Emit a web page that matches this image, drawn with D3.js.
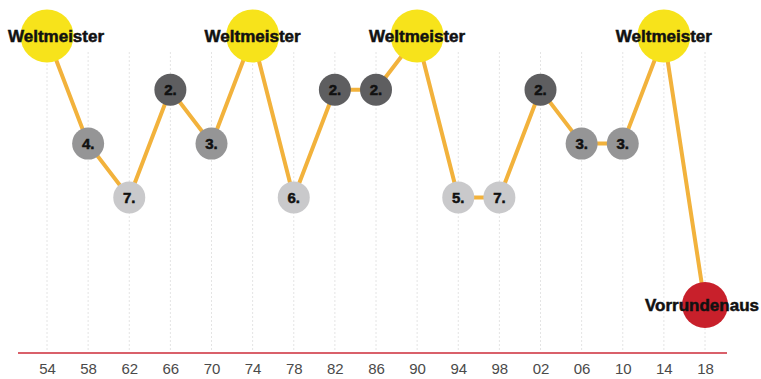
<!DOCTYPE html>
<html>
<head>
<meta charset="utf-8">
<script src="https://cdn.jsdelivr.net/npm/d3@7"></script>
<style>
body { margin: 0; background: #fff; }
svg text { font-family: "Liberation Sans", Arial, sans-serif; }
</style>
</head>
<body>
<div id="chart"></div>
<script>
// WM-Platzierungen
var years = ["54","58","62","66","70","74","78","82","86","90","94","98","02","06","10","14","18"];
var places = [1, 4, 7, 2, 3, 1, 6, 2, 2, 1, 5, 7, 2, 3, 3, 1, 0];   // 0 = Vorrunde
var labels = ["Weltmeister","4.","7.","2.","3.","Weltmeister","6.","2.","2.","Weltmeister","5.","7.","2.","3.","3.","Weltmeister","Vorrundenaus"];

var width = 761, height = 379;

var data = years.map(function(y, i){
	return {year: y, place: places[i], label: labels[i]};
});

// Platz -> Stufe
function tier(p) {
	if (p === 0) return 6;
	if (p === 1) return 1;
	if (p === 2) return 2;
	if (p <= 4) return 3;
	return 4;
}
function fillFor(p) {
	if (p === 0) return "#c8202b";
	if (p === 1) return "#f7e31b";
	if (p === 2) return "#5e5e60";
	if (p <= 4) return "#959596";
	return "#c9c9cb";
}
function radiusFor(p) {
	if (p === 1) return 26.5;
	if (p === 0) return 23;
	return 16;
}

var svg = d3.select("#chart").append("svg")
	.attr("width", width)
	.attr("height", height);

var x = d3.scalePoint()
	.domain(years)
	.range([47, 705]);

var y = d3.scaleLinear()
	.domain([1, 6])
	.range([36, 305]);

// dotted grid
svg.append("g")
	.selectAll("line")
	.data(years)
	.enter().append("line")
	.attr("x1", function(d){ return x(d); })
	.attr("x2", function(d){ return x(d); })
	.attr("y1", 52)
	.attr("y2", 352)
	.attr("stroke", "#e4e4e4")
	.attr("stroke-width", 1)
	.attr("stroke-dasharray", "2,2");

// axis
var xAxis = d3.axisBottom(x).tickSize(0).tickPadding(10);
var ax = svg.append("g")
	.attr("transform", "translate(0,353)")
	.call(xAxis);
ax.select(".domain").remove();
ax.append("line")
	.attr("x1", 18).attr("x2", 727)
	.attr("stroke", "#d9606a")
	.attr("stroke-width", 2);
ax.selectAll(".tick text")
	.attr("font-size", 15)
	.attr("fill", "#4a4a4a")
	.style("font-family", "'Liberation Sans', Arial, sans-serif");

// line
var line = d3.line()
	.x(function(d){ return x(d.year); })
	.y(function(d){ return y(tier(d.place)); });

svg.append("path")
	.datum(data)
	.attr("d", line)
	.attr("fill", "none")
	.attr("stroke", "#f2b23c")
	.attr("stroke-width", 4);

// circles
var nodes = svg.append("g")
	.selectAll("g")
	.data(data)
	.enter().append("g")
	.attr("transform", function(d){
		return "translate(" + x(d.year) + "," + y(tier(d.place)) + ")";
	});

nodes.append("circle")
	.attr("r", function(d){ return radiusFor(d.place); })
	.attr("fill", function(d){ return fillFor(d.place); });

nodes.append("text")
	.text(function(d){ return d.label; })
	.attr("text-anchor", "middle")
	.attr("dy", "0.36em")
	.attr("font-weight", "bold")
	.attr("font-size", function(d){ return (d.place === 1 || d.place === 0) ? 17 : 15; })
	.attr("fill", "#111")
	.attr("stroke", "#111")
	.attr("stroke-width", 0.5)
	//keep labels inside the picture
	.attr("x", function(d){
		var w = this.getComputedTextLength();
		var cx = x(d.year);
		var shift = 0;
		if (cx - w / 2 < 8) shift = 8 - (cx - w / 2);
		if (cx + w / 2 > width - 2) shift = (width - 2) - (cx + w / 2);
		return shift;
	});
</script>
</body>
</html>
